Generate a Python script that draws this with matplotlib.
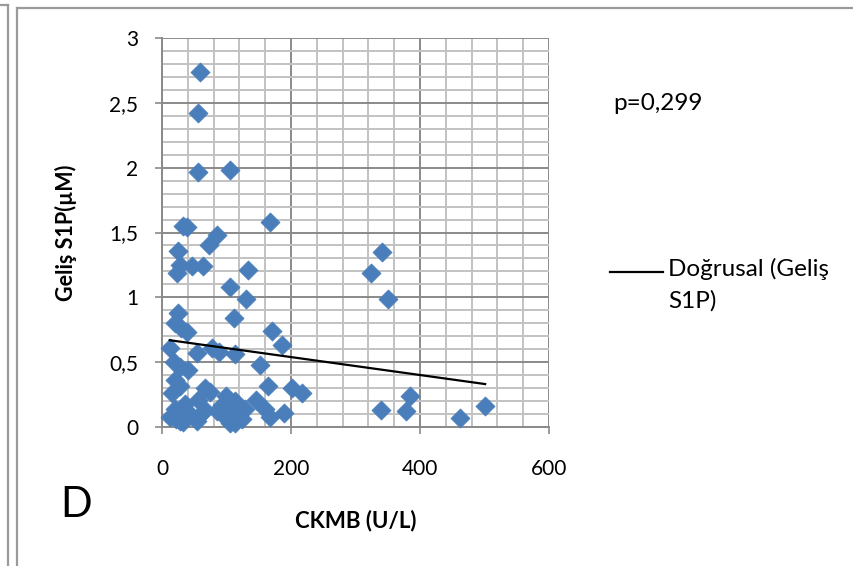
import numpy as np
import matplotlib
matplotlib.use("Agg")
import matplotlib.pyplot as plt
from matplotlib.ticker import MultipleLocator, FixedLocator, FixedFormatter
from matplotlib.lines import Line2D

plt.rcParams['font.family'] = ['Lato', 'DejaVu Sans']

# CKMB (U/L) and Geliş S1P (µM)
ckmb = [59, 56, 56, 106, 33, 38, 168, 85, 73, 25, 28, 46, 64, 23, 134, 106, 131,
        25, 111, 20, 30, 38, 170, 186, 341, 324, 351,
        12, 54, 77, 88, 113, 152, 18, 28, 41, 20, 28, 67, 75, 15, 100, 165, 202, 217,
        56, 36, 20, 93, 12, 41, 67, 54, 28, 98, 113, 145, 129, 160, 103, 168, 189,
        113, 105, 340, 384, 378, 462, 501,
        22, 32, 45, 60, 108, 118, 124, 85]
s1p = [2.74, 2.42, 1.97, 1.98, 1.55, 1.54, 1.58, 1.48, 1.40, 1.36, 1.25, 1.24, 1.24, 1.19, 1.21, 1.08, 0.99,
       0.88, 0.84, 0.80, 0.76, 0.73, 0.74, 0.63, 1.35, 1.19, 0.99,
       0.61, 0.57, 0.61, 0.58, 0.56, 0.48, 0.50, 0.46, 0.44, 0.36, 0.32, 0.30, 0.27, 0.26, 0.24, 0.32, 0.30, 0.26,
       0.21, 0.18, 0.14, 0.17, 0.08, 0.11, 0.13, 0.05, 0.05, 0.08, 0.20, 0.21, 0.14, 0.14, 0.11, 0.08, 0.11,
       0.03, 0.03, 0.13, 0.24, 0.12, 0.07, 0.16,
       0.06, 0.04, 0.09, 0.10, 0.07, 0.09, 0.06, 0.12]

xticks = [0, 200, 400, 600]
xtick_labels = ['0', '200', '400', '600']
yticks = [0, 0.5, 1, 1.5, 2, 2.5, 3]
ytick_labels = ['0', '0,5', '1', '1,5', '2', '2,5', '3']

x_label = 'CKMB (U/L)'
y_label = 'Geliş S1P(µM)'
p_text = 'p=0,299'
trend_label = 'Doğrusal (Geliş\nS1P)'
panel_letter = 'D'

W, H = 854, 566
fig = plt.figure(figsize=(W / 100, H / 100), dpi=100)
ax = fig.add_axes([162 / W, 1 - 427 / H, 387 / W, 389 / H])

ax.set_xlim(0, 600)
ax.set_ylim(0, 3)
ax.xaxis.set_major_locator(FixedLocator(xticks))
ax.xaxis.set_major_formatter(FixedFormatter(xtick_labels))
ax.yaxis.set_major_locator(FixedLocator(yticks))
ax.yaxis.set_major_formatter(FixedFormatter(ytick_labels))
ax.xaxis.set_minor_locator(MultipleLocator(40))
ax.yaxis.set_minor_locator(MultipleLocator(0.1))

ax.grid(which='minor', color='#c2c2c2', lw=1.4, zorder=0)
ax.grid(which='major', color='#8a8a8a', lw=1.4, zorder=0)
ax.set_axisbelow(True)
for s in ['top', 'right']:
    ax.spines[s].set_visible(False)
for s in ['left', 'bottom']:
    ax.spines[s].set_color('#8a8a8a')
    ax.spines[s].set_linewidth(1.4)

ax.tick_params(which='major', direction='out', length=5, width=1.2, color='#8a8a8a',
               labelsize=15, labelcolor='black')
ax.tick_params(axis='x', which='major', pad=18)
ax.tick_params(axis='y', which='major', pad=12)
ax.tick_params(which='minor', length=0)

ax.scatter(ckmb, s1p, marker='D', s=95, color='#4a7ebb', edgecolors='#4a7ebb',
           linewidths=0.5, zorder=3, clip_on=False)

coef = np.polyfit(ckmb, s1p, 1)
xs = np.array([min(ckmb), max(ckmb)])
trend_line, = ax.plot(xs, np.polyval(coef, xs), color='black', lw=1.6, zorder=4)

ax.set_xlabel(x_label, fontsize=16, fontweight='bold', labelpad=22)
ax.set_ylabel(y_label, fontsize=15.5, fontweight='bold', labelpad=23)

fig.text(613 / W, 1 - 104 / H, p_text, fontsize=17.5, va='center', ha='left')
fig.text(76 / W, 1 - 505 / H, panel_letter, fontsize=30, va='center', ha='center')

# legend entry for the trend line (handle + label)
fig.add_artist(Line2D([610 / W, 663 / W], [1 - 272 / H, 1 - 272 / H], transform=fig.transFigure,
                      color=trend_line.get_color(), lw=trend_line.get_linewidth()))
fig.text(668 / W, 1 - 258 / H, trend_label, fontsize=17.5, va='top', ha='left', linespacing=1.55)

# outer frame lines
fc = '#9a9a9a'
fig.add_artist(Line2D([8 / W, 8 / W], [0, 1 - 5 / H], transform=fig.transFigure, color=fc, lw=1.6))
fig.add_artist(Line2D([0, 8 / W], [1 - 5 / H, 1 - 5 / H], transform=fig.transFigure, color=fc, lw=1.6))
fig.add_artist(Line2D([17 / W, 17 / W], [0, 1 - 8 / H], transform=fig.transFigure, color=fc, lw=1.6))
fig.add_artist(Line2D([17 / W, 1], [1 - 8 / H, 1 - 8 / H], transform=fig.transFigure, color=fc, lw=1.6))

fig.savefig('out.png', dpi=100)
